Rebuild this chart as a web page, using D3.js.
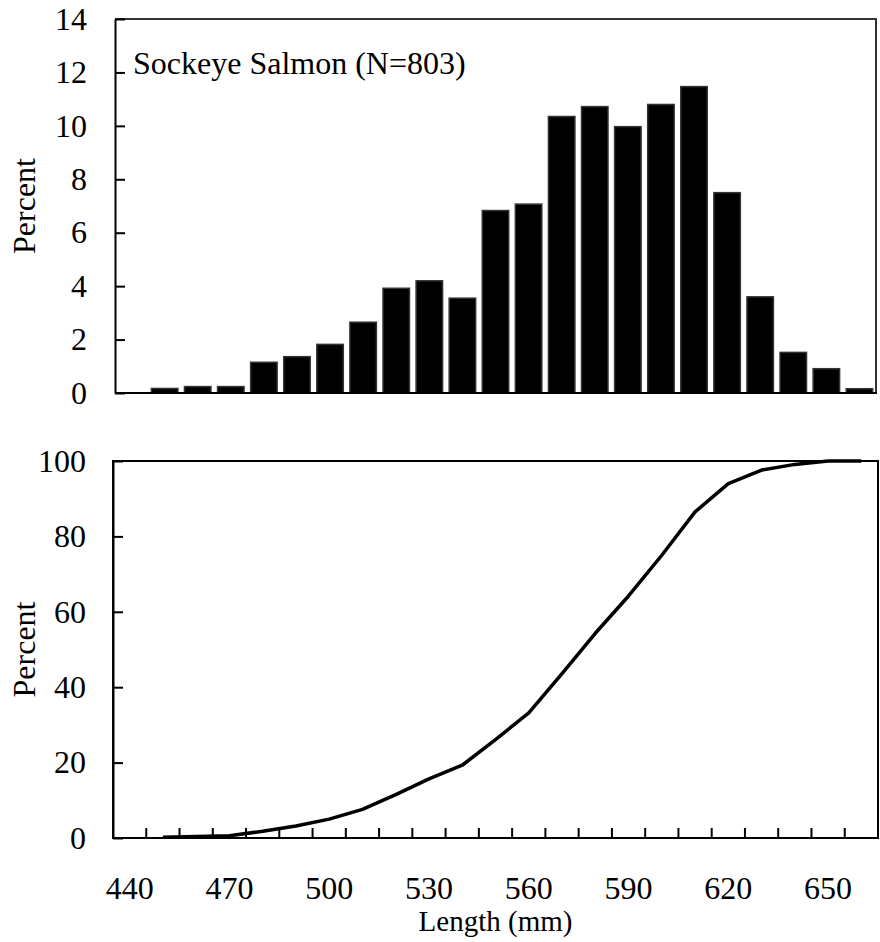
<!DOCTYPE html>
<html>

<head>
  <title>Sockeye Salmon Length</title>
  <meta charset="utf-8" />
  <script src="https://d3js.org/d3.v7.min.js"></script>
  <style>
    body {
      margin: 0;
      background: white;
    }
  </style>
</head>

<body>
  <div id="chart"></div>
  <script>
    // length classes (mm), one slot per 10 mm
    const lengths = [440, 450, 460, 470, 480, 490, 500, 510, 520, 530, 540, 550,
      560, 570, 580, 590, 600, 610, 620, 630, 640, 650, 660];
    const lengthLabels = [440, 470, 500, 530, 560, 590, 620, 650];

    // percent of fish in each class (450..660)
    const barLengths = lengths.slice(1);
    const percent = [0.17, 0.24, 0.24, 1.15, 1.36, 1.82, 2.65, 3.92, 4.2, 3.55, 6.83,
      7.07, 10.35, 10.72, 9.97, 10.8, 11.47, 7.5, 3.6, 1.52, 0.91, 0.16];

    // cumulative percent
    const cumPercent = [0.2, 0.4, 0.6, 1.8, 3.2, 5.0, 7.6, 11.5, 15.7, 19.3, 26.1,
      33.2, 43.6, 54.3, 64.2, 75.0, 86.5, 94.0, 97.6, 99.1, 100, 100];

    const topTicks = [0, 2, 4, 6, 8, 10, 12, 14];
    const bottomTicks = [0, 20, 40, 60, 80, 100];

    const width = 880;
    const height = 942;
    const serif = "'Liberation Serif', 'DejaVu Serif', 'Times New Roman', serif";

    const svg = d3.select("#chart")
      .append("svg")
      .attr("width", width)
      .attr("height", height)
      .attr("font-family", serif);

    // ---------- top panel: histogram ----------
    const histBox = { left: 115, right: 876, top: 19, bottom: 393 };

    const x1 = d3.scaleBand()
      .domain(lengths)
      .range([histBox.left, histBox.right])
      .paddingInner(0.2)
      .paddingOuter(0.1);

    const y1 = d3.scaleLinear()
      .domain([0, 14])
      .range([histBox.bottom, histBox.top]);

    svg.append("g")
      .selectAll("rect")
      .data(barLengths)
      .enter().append("rect")
      .attr("x", d => x1(d))
      .attr("width", x1.bandwidth())
      .attr("y", (d, i) => y1(percent[i]))
      .attr("height", (d, i) => y1(0) - y1(percent[i]))
      .attr("fill", "black")
      .attr("stroke", "#333")
      .attr("stroke-width", 1.5);

    // top and right borders are grey in the original
    svg.append("path")
      .attr("d", `M${histBox.left},${histBox.top}H${histBox.right}V${histBox.bottom}`)
      .attr("fill", "none")
      .attr("stroke", "#333")
      .attr("stroke-width", 2);

    svg.append("line")
      .attr("x1", histBox.left).attr("x2", histBox.right + 1)
      .attr("y1", histBox.bottom).attr("y2", histBox.bottom)
      .attr("stroke", "black")
      .attr("stroke-width", 2);

    const yAxis1 = svg.append("g")
      .attr("transform", `translate(${histBox.left},0)`)
      .call(d3.axisLeft(y1).tickValues(topTicks).tickSizeInner(-10).tickSizeOuter(0).tickPadding(28));

    yAxis1.attr("font-family", serif).attr("font-size", 32);
    yAxis1.select(".domain").attr("stroke", "black").attr("stroke-width", 2);
    yAxis1.selectAll(".tick line").attr("stroke", "black").attr("stroke-width", 2);
    yAxis1.selectAll(".tick text").attr("fill", "black");

    svg.append("text")
      .attr("x", 133)
      .attr("y", 74)
      .attr("font-size", 32)
      .text("Sockeye Salmon (N=803)");

    svg.append("text")
      .attr("transform", `translate(35,${(histBox.top + histBox.bottom) / 2}) rotate(-90)`)
      .attr("text-anchor", "middle")
      .attr("font-size", 32)
      .text("Percent");

    // ---------- bottom panel: cumulative ----------
    const cumBox = { left: 113, right: 878, top: 461, bottom: 838 };

    const x2 = d3.scaleBand()
      .domain(lengths)
      .range([cumBox.left, cumBox.right]);

    const y2 = d3.scaleLinear()
      .domain([0, 100])
      .range([cumBox.bottom, cumBox.top]);

    svg.append("rect")
      .attr("x", cumBox.left)
      .attr("y", cumBox.top)
      .attr("width", cumBox.right - cumBox.left)
      .attr("height", cumBox.bottom - cumBox.top)
      .attr("fill", "none")
      .attr("stroke", "black")
      .attr("stroke-width", 2);

    // tick marks sit on the class boundaries, pointing up into the plot
    svg.append("g")
      .selectAll("line")
      .data(lengths.slice(1))
      .enter().append("line")
      .attr("x1", d => x2(d))
      .attr("x2", d => x2(d))
      .attr("y1", cumBox.bottom)
      .attr("y2", cumBox.bottom - 10)
      .attr("stroke", "black")
      .attr("stroke-width", 2);

    svg.append("g")
      .selectAll("text")
      .data(lengthLabels)
      .enter().append("text")
      .attr("x", d => x2(d) + x2.bandwidth() / 2)
      .attr("y", 899)
      .attr("text-anchor", "middle")
      .attr("font-size", 32)
      .text(d => d);

    const yAxis2 = svg.append("g")
      .attr("transform", `translate(${cumBox.left},0)`)
      .call(d3.axisLeft(y2).tickValues(bottomTicks).tickSizeInner(-10).tickSizeOuter(0).tickPadding(27));

    yAxis2.attr("font-family", serif).attr("font-size", 32);
    yAxis2.select(".domain").attr("stroke", "black").attr("stroke-width", 2);
    yAxis2.selectAll(".tick line").attr("stroke", "black").attr("stroke-width", 2);
    yAxis2.selectAll(".tick text").attr("fill", "black");

    const line = d3.line()
      .x((d, i) => x2(barLengths[i]) + x2.bandwidth() / 2)
      .y(d => y2(d));

    svg.append("path")
      .datum(cumPercent)
      .attr("d", line)
      .attr("fill", "none")
      .attr("stroke", "black")
      .attr("stroke-width", 3.5)
      .attr("stroke-linejoin", "round");

    svg.append("text")
      .attr("transform", `translate(35,${(cumBox.top + cumBox.bottom) / 2}) rotate(-90)`)
      .attr("text-anchor", "middle")
      .attr("font-size", 32)
      .text("Percent");

    svg.append("text")
      .attr("x", (cumBox.left + cumBox.right) / 2)
      .attr("y", 931)
      .attr("text-anchor", "middle")
      .attr("font-size", 29)
      .text("Length (mm)");
  </script>
</body>

</html>
